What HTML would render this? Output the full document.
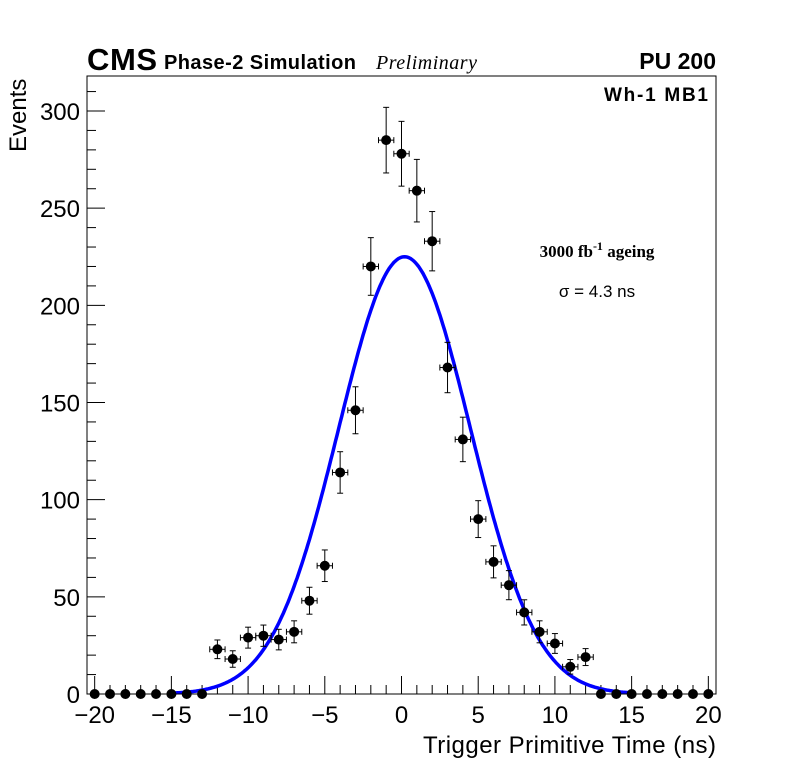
<!DOCTYPE html>
<html><head><meta charset="utf-8"><style>body{margin:0;background:#fff}svg{display:block}text{font-family:"Liberation Sans",sans-serif}</style></head>
<body>
<svg id="c" width="796" height="772">
<rect x="0" y="0" width="796" height="772" fill="#fff"/>
<g id="ticks"></g>
<g id="curve"></g>
<g id="pts"></g>
<rect x="87" y="76" width="629" height="618" fill="none" stroke="#000" stroke-width="1"/>
<text x="87" y="70" font-size="31" font-weight="bold" textLength="70">CMS</text>
<text x="164" y="69" font-size="20" font-weight="bold" textLength="192">Phase-2 Simulation</text>
<text x="376" y="69" font-size="20" font-style="italic" textLength="101" style="font-family:'Liberation Serif',serif">Preliminary</text>
<text x="716" y="69" font-size="23" font-weight="bold" text-anchor="end">PU 200</text>
<text x="708" y="101" font-size="19" font-weight="bold" text-anchor="end" textLength="104">Wh-1 MB1</text>
<text x="597" y="257" font-size="17" font-weight="bold" text-anchor="middle" style="font-family:'Liberation Serif',serif">3000 fb<tspan dy="-7" font-size="12">-1</tspan><tspan dy="7"> ageing</tspan></text>
<text x="597" y="297" font-size="17" text-anchor="middle">σ = 4.3 ns</text>
<text x="716" y="753" font-size="24" text-anchor="end" textLength="293">Trigger Primitive Time (ns)</text>
<text transform="translate(26,152) rotate(-90)" font-size="24">Events</text>
</svg>
<script>
const binCenters=[-20,-19,-18,-17,-16,-15,-14,-13,-12,-11,-10,-9,-8,-7,-6,-5,-4,-3,-2,-1,0,1,2,3,4,5,6,7,8,9,10,11,12,13,14,15,16,17,18,19,20];
const counts=[0,0,0,0,0,0,0,0,23,18,29,30,28,32,48,66,114,146,220,285,278,259,233,168,131,90,68,56,42,32,26,14,19,0,0,0,0,0,0,0,0];
const fitAmp=225, fitMean=0.2, fitSigma=4.3;
const xTicks=[-20,-15,-10,-5,0,5,10,15,20];
const yTicks=[0,50,100,150,200,250,300];
const NS='http://www.w3.org/2000/svg';
const X=v=>87+(v+20.5)*629/41, Y=v=>694-v*583/300;
function mk(t,a,p){const e=document.createElementNS(NS,t);for(const k in a)e.setAttribute(k,a[k]);p.appendChild(e);return e;}
const tg=document.getElementById('ticks');
for(let v=-20;v<=20;v++){const maj=v%5===0;const l=mk('line',{x1:X(v),x2:X(v),y1:694,y2:694-(maj?18:9),stroke:'#000'},tg);

}
xTicks.forEach(v=>{const t=mk('text',{x:X(v),y:723,'font-size':24,'text-anchor':'middle'},tg);t.textContent=(v<0?'\u2212'+(-v):v);

});
for(let v=0;v<=310;v+=10){const maj=v%50===0;const l=mk('line',{x1:87,x2:87+(maj?18:9),y1:Y(v),y2:Y(v),stroke:'#000'},tg);

}
yTicks.forEach(v=>{const t=mk('text',{x:80,y:Y(v)+9,'font-size':24,'text-anchor':'end'},tg);t.textContent=v;

});
let d='';for(let x=-15;x<=15.001;x+=0.1){const y=fitAmp*Math.exp(-Math.pow(x-fitMean,2)/(2*fitSigma*fitSigma));d+=(d?'L':'M')+X(x).toFixed(1)+','+Y(y).toFixed(1);}
const cv=mk('path',{d:d,fill:'none',stroke:'#0000ff','stroke-width':3.5},document.getElementById('curve'));


const pg=document.getElementById('pts');
binCenters.forEach((c,i)=>{const n=counts[i];const g=mk('g',{},pg);


const cx=X(c),cy=Y(n),e=Math.sqrt(n);
if(n>0){mk('line',{x1:X(c-0.5),x2:X(c+0.5),y1:cy,y2:cy,stroke:'#000'},g);
[X(c-0.5),X(c+0.5)].forEach(xx=>mk('line',{x1:xx,x2:xx,y1:cy-3,y2:cy+3,stroke:'#000'},g));
mk('line',{x1:cx,x2:cx,y1:Y(n+e),y2:Y(n-e),stroke:'#000'},g);
[Y(n+e),Y(n-e)].forEach(yy=>mk('line',{x1:cx-3,x2:cx+3,y1:yy,y2:yy,stroke:'#000'},g));}
mk('circle',{cx:cx,cy:cy,r:5,fill:'#000'},g);});
</script>
</body></html>
